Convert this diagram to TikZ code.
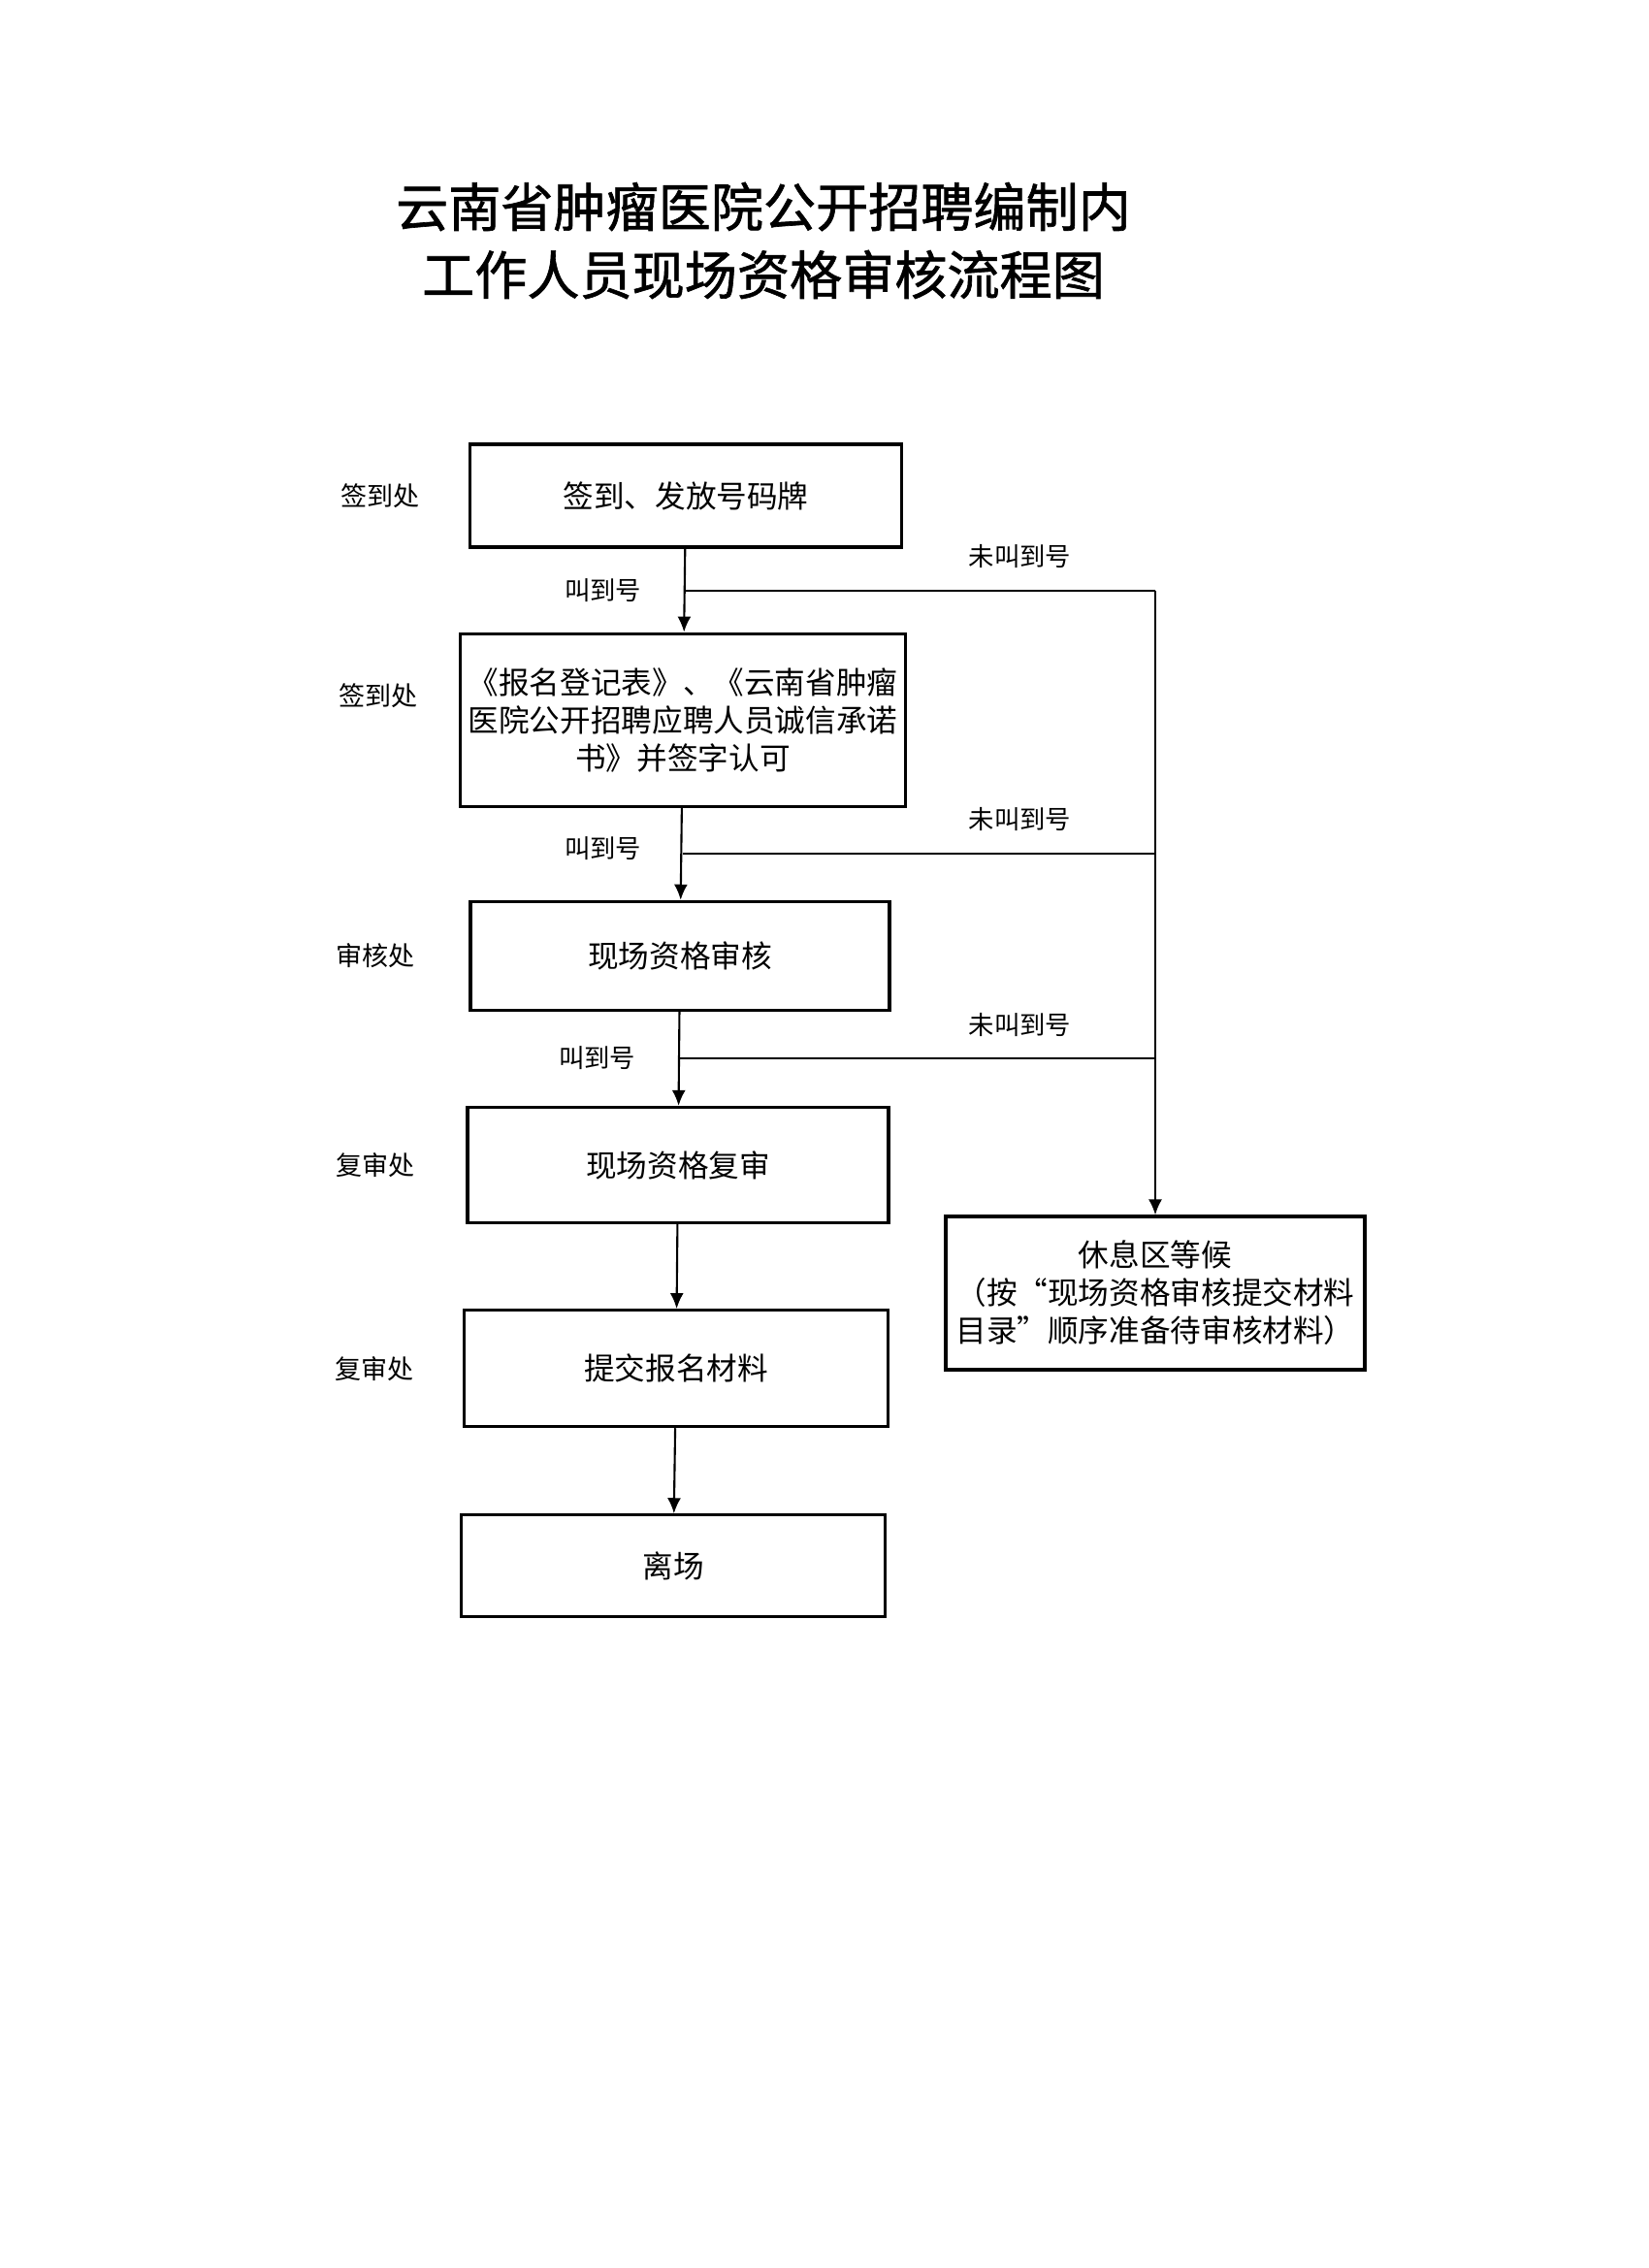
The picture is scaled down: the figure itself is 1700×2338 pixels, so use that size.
\documentclass[tikz,border=0pt]{standalone}
\usepackage{fontspec}
\setmainfont{Noto Sans CJK SC}
\newfontfamily\titlefont[FakeBold=1.2]{Noto Sans CJK SC}
\usepackage{tikz}
\usetikzlibrary{arrows.meta, positioning}

\begin{document}
\begin{tikzpicture}[
      x=0.1mm, y=-0.1mm,
      box/.style={draw, line width=0.9pt, align=center, inner sep=1pt, font=\fontsize{9pt}{11.1pt}\selectfont},
      place/.style={inner sep=0pt, font=\fontsize{7.7pt}{9pt}\selectfont},
      note/.style={inner sep=0pt, font=\fontsize{7.5pt}{9pt}\selectfont},
      arr/.style={-{Latex[length=1.6mm, width=1.4mm]}, line width=0.6pt},
      link/.style={line width=0.6pt}
    ]
    \useasboundingbox (0,0) rectangle (1700,2338);
    \node[align=center, font=\titlefont\fontsize{15.4pt}{19.9pt}\selectfont] (title) at (787,248) {云南省肿瘤医院公开招聘编制内\\工作人员现场资格审核流程图};
    \node[box, minimum width=4.45cm, minimum height=1.06cm] (sign) at (707,511) {签到、发放号码牌};
    \node[box, minimum width=4.59cm, minimum height=1.78cm, below=0.86cm of sign, xshift=-0.03cm] (form) {《报名登记表》、《云南省肿瘤\\医院公开招聘应聘人员诚信承诺\\书》并签字认可};
    \node[box, minimum width=4.32cm, minimum height=1.12cm, below=0.95cm of form, xshift=-0.03cm] (check) {现场资格审核};
    \node[box, minimum width=4.34cm, minimum height=1.19cm, below=0.97cm of check, xshift=-0.02cm] (recheck) {现场资格复审};
    \node[box, minimum width=4.37cm, minimum height=1.2cm, below=0.87cm of recheck, xshift=-0.02cm] (submit) {提交报名材料};
    \node[box, minimum width=4.37cm, minimum height=1.05cm, below=0.88cm of submit, xshift=-0.03cm] (leave) {离场};
    \node[box, minimum width=4.32cm, minimum height=1.58cm] (wait) at (1191,1333) {休息区等候\\（按“现场资格审核提交材料\\目录”顺序准备待审核材料）};
    \node[place, left=0.5cm of sign] (desk1) {签到处};
    \node[place, left=0.42cm of form, yshift=0.25cm] (desk2) {签到处};
    \node[place, left=0.55cm of check] (desk3) {审核处};
    \node[place, left=0.52cm of recheck] (desk4) {复审处};
    \node[place, left=0.5cm of submit] (desk5) {复审处};
    \coordinate[below=0.43cm of sign.south] (j1);
    \coordinate[below=0.47cm of form.south] (j2);
    \coordinate[below=0.48cm of check.south] (j3);
    \coordinate (k1) at (j1 -| wait);
    \coordinate (k2) at (j2 -| wait);
    \coordinate (k3) at (j3 -| wait);
    \draw[arr] (sign) -- (form);
    \draw[arr] (form) -- (check);
    \draw[arr] (check) -- (recheck);
    \draw[arr] (recheck) -- (submit);
    \draw[arr] (submit) -- (leave);
    \draw[link] (j1) -- (k1);
    \draw[link] (j2) -- (k2);
    \draw[link] (j3) -- (k3);
    \draw[arr] (k1) -- (wait);
    \node[note, left=0.45cm of j1] (call1) {叫到号};
    \node[note, left=0.42cm of j2, yshift=0.05cm] (call2) {叫到号};
    \node[note, left=0.45cm of j3] (call3) {叫到号};
    \node[note, above left=0.22cm and 0.86cm of k1] (miss1) {未叫到号};
    \node[note, above left=0.22cm and 0.86cm of k2] (miss2) {未叫到号};
    \node[note, above left=0.22cm and 0.86cm of k3] (miss3) {未叫到号};
  \end{tikzpicture}
\end{document}
